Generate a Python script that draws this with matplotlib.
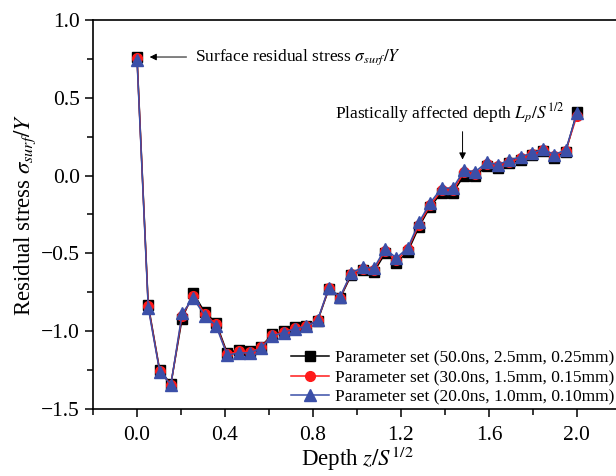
import numpy as np
import matplotlib
matplotlib.use('Agg')
import matplotlib.pyplot as plt
from matplotlib.ticker import MultipleLocator

plt.rcParams['font.family'] = ['Liberation Serif', 'DejaVu Serif']
plt.rcParams['mathtext.fontset'] = 'stix'

# normalised depth z/S^1/2
depth = [0.000, 0.051, 0.103, 0.154, 0.205, 0.256, 0.308, 0.359, 0.410, 0.462,
         0.513, 0.564, 0.615, 0.667, 0.718, 0.769, 0.821, 0.872, 0.923, 0.974,
         1.026, 1.077, 1.128, 1.179, 1.231, 1.282, 1.333, 1.385, 1.436, 1.487,
         1.538, 1.590, 1.641, 1.692, 1.744, 1.795, 1.846, 1.897, 1.949, 2.000]

# residual stress sigma/Y for each parameter set
stress_50ns = [0.765, -0.83, -1.25, -1.34, -0.92, -0.755, -0.88, -0.945, -1.14, -1.12,
               -1.13, -1.10, -1.02, -1.00, -0.975, -0.965, -0.935, -0.73, -0.79, -0.64,
               -0.61, -0.62, -0.50, -0.56, -0.49, -0.33, -0.20, -0.11, -0.11, 0.00,
               0.00, 0.06, 0.05, 0.08, 0.10, 0.13, 0.155, 0.115, 0.15, 0.41]
stress_30ns = [0.755, -0.84, -1.255, -1.345, -0.90, -0.775, -0.89, -0.955, -1.15, -1.13,
               -1.135, -1.105, -1.025, -1.005, -0.98, -0.97, -0.93, -0.725, -0.785, -0.63,
               -0.60, -0.605, -0.485, -0.545, -0.475, -0.315, -0.19, -0.095, -0.095, 0.02,
               0.01, 0.075, 0.06, 0.09, 0.11, 0.14, 0.165, 0.125, 0.16, 0.385]
stress_20ns = [0.745, -0.85, -1.26, -1.345, -0.885, -0.79, -0.90, -0.965, -1.155, -1.14,
               -1.14, -1.11, -1.03, -1.01, -0.985, -0.97, -0.93, -0.72, -0.78, -0.625,
               -0.59, -0.595, -0.47, -0.53, -0.465, -0.30, -0.175, -0.08, -0.08, 0.035,
               0.025, 0.085, 0.07, 0.10, 0.12, 0.145, 0.17, 0.135, 0.165, 0.40]

labels = ['Parameter set (50.0ns, 2.5mm, 0.25mm)',
          'Parameter set (30.0ns, 1.5mm, 0.15mm)',
          'Parameter set (20.0ns, 1.0mm, 0.10mm)']

fig = plt.figure(figsize=(6.16, 4.76), dpi=100)
ax = fig.add_axes([0.151, 0.141, 0.857, 0.817])

ax.plot(depth, stress_50ns, color='black', marker='s', ms=7, lw=1.1, label=labels[0])
ax.plot(depth, stress_30ns, color='#ff1a1a', marker='o', ms=7, lw=1.1, label=labels[1])
ax.plot(depth, stress_20ns, color='#3b4fa8', marker='^', ms=8, lw=1.1, label=labels[2])

ax.set_xlim(-0.2, 2.2)
ax.set_ylim(-1.5, 1.0)
ax.xaxis.set_major_locator(MultipleLocator(0.4))
ax.xaxis.set_minor_locator(MultipleLocator(0.2))
ax.yaxis.set_major_locator(MultipleLocator(0.5))
ax.yaxis.set_minor_locator(MultipleLocator(0.25))
ax.tick_params(which='both', direction='out', width=1.1, labelsize=15.5)
ax.tick_params(which='major', length=6)
ax.tick_params(which='minor', length=4)
ax.tick_params(axis='x', pad=6)
for s in ax.spines.values():
    s.set_linewidth(1.2)

ax.set_xlabel(r'Depth $z/S^{1/2}$', fontsize=16.5, labelpad=0)
ax.set_ylabel(r'Residual stress $\sigma_{surf}/Y$', fontsize=16.5, labelpad=2)

ax.annotate(r'Surface residual stress $\sigma_{surf}/Y$', xy=(0.045, 0.762), xytext=(0.263, 0.762),
            ha='left', va='center', fontsize=12.5,
            arrowprops=dict(arrowstyle='-|>', color='black', lw=0.7, mutation_scale=10, shrinkA=4))

ax.text(0.902, 0.40, r'Plastically affected depth $L_p/S^{1/2}$', ha='left', va='center', fontsize=12.5)
ax.annotate('', xy=(1.48, 0.085), xytext=(1.48, 0.30),
            arrowprops=dict(arrowstyle='-|>', color='black', lw=0.7, mutation_scale=10))

ax.legend(loc='lower right', bbox_to_anchor=(0.997, 0.148), bbox_transform=fig.transFigure,
          frameon=False, fontsize=12.5, handlelength=2.2, handletextpad=0.35,
          labelspacing=0.2, borderpad=0, borderaxespad=0)

fig.savefig('out.png', dpi=100)
